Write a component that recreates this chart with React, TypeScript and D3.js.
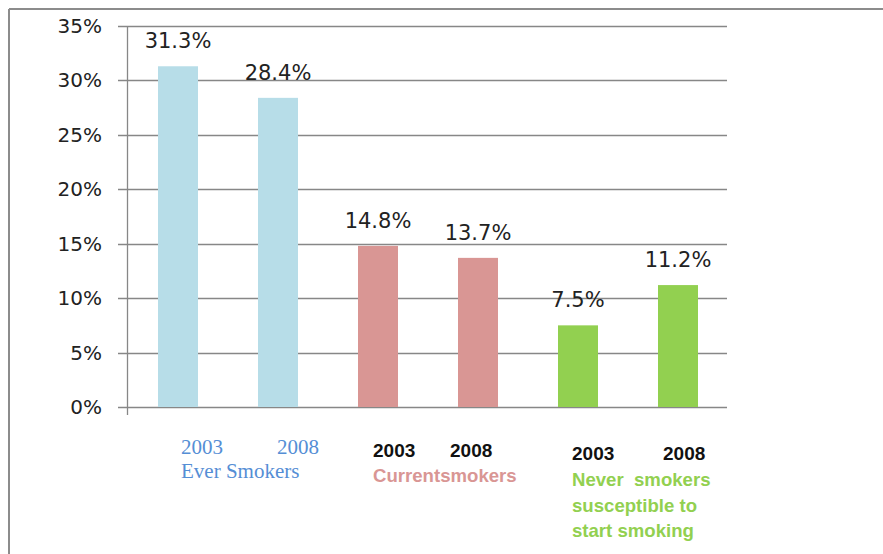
import React from "react";
import * as d3 from "d3";

const categories = ["Ever 2003", "Ever 2008", "Current 2003", "Current 2008", "Never 2003", "Never 2008"];
const values = [31.3, 28.4, 14.8, 13.7, 7.5, 11.2];
const yTicks = [0, 5, 10, 15, 20, 25, 30, 35];
const yearLabels = ["2003", "2008", "2003", "2008", "2003", "2008"];
const groupNames = [["Ever Smokers"], ["Currentsmokers"], ["Never  smokers", "susceptible to", "start smoking"]];

const barColors = ["#B7DDE8", "#B7DDE8", "#D99694", "#D99694", "#92D050", "#92D050"];
const groupColors = ["#558ED5", "#D99694", "#92D050"];
// layout tweaks (pixel offsets for the hand-placed labels)
const yearOffsets = [23, 19, 15, -8, 14, 5];
const yearBaselines = [454, 454, 457, 457, 460, 460];
const groupX = [0, 2, 4];
const groupOffsets = [23, 15, 14];
const groupBaselines = [478, 482, 486];

export default function App() {
  const W = 883, H = 554;
  const x = d3.scaleBand<string>().domain(categories).range([128, 728]).paddingInner(0.6).paddingOuter(0.3);
  const y = d3.scaleLinear().domain([0, 35]).range([407, 26]);
  const grid = "#878787";
  return (
    <svg width={W} height={H} style={{ position: "absolute", left: 0, top: 0, background: "#fff" }}>
      <line x1={9} y1={9} x2={W} y2={9} stroke="#8c8c8c" strokeWidth={2} />
      <line x1={9} y1={9} x2={9} y2={H} stroke="#8c8c8c" strokeWidth={2} />
      {yTicks.map((t) => (
        <g key={t}>
          <line x1={118} x2={727} y1={Math.round(y(t)) + 0.5} y2={Math.round(y(t)) + 0.5} stroke={grid} strokeWidth={1.3} />
          <text x={102} y={y(t) + 7} textAnchor="end" fontFamily="DejaVu Sans" fontSize={20} fill="#222">
            {t}%
          </text>
        </g>
      ))}
      <line x1={127.5} x2={127.5} y1={26} y2={415} stroke={grid} strokeWidth={1.3} />
      {categories.map((c, i) => (
        <g key={c}>
          <rect x={x(c)} y={y(values[i])} width={x.bandwidth()} height={y(0) - y(values[i])} fill={barColors[i]} />
          <text x={(x(c) as number) + x.bandwidth() / 2} y={y(values[i]) - 18} textAnchor="middle" fontFamily="DejaVu Sans" fontSize={21} fill="#222">
            {values[i].toFixed(1)}%
          </text>
          {i < 2 ? (
            <text x={(x(c) as number) + yearOffsets[i]} y={yearBaselines[i]} fontFamily="Liberation Serif" fontSize={21} fill={groupColors[0]}>
              {yearLabels[i]}
            </text>
          ) : (
            <text x={(x(c) as number) + yearOffsets[i]} y={yearBaselines[i]} fontFamily="Liberation Sans" fontWeight="bold" fontSize={19} fill="#111">
              {yearLabels[i]}
            </text>
          )}
        </g>
      ))}
      {groupNames.map((lines, g) =>
        lines.map((ln, j) => (
          <text
            key={g + "-" + j}
            x={(x(categories[groupX[g]]) as number) + groupOffsets[g]}
            y={groupBaselines[g] + j * 25.5}
            fontFamily={g === 0 ? "Liberation Serif" : "Liberation Sans"}
            fontWeight={g === 0 ? "normal" : "bold"}
            fontSize={g === 0 ? 21 : 18.6}
            fill={groupColors[g]}
            style={{ whiteSpace: "pre" }}
          >
            {ln}
          </text>
        ))
      )}
    </svg>
  );
}
